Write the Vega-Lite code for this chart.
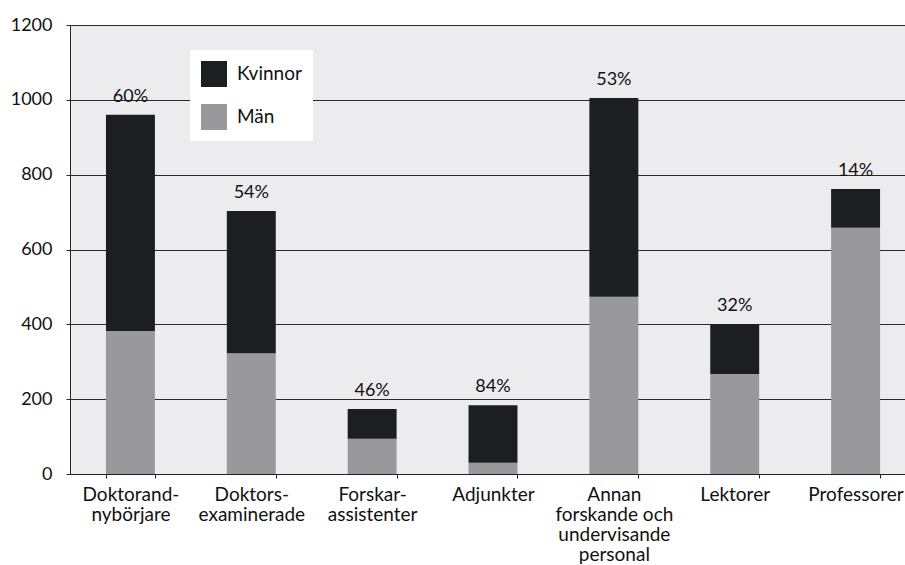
{
  "$schema": "https://vega.github.io/schema/vega-lite/v6.json",
  "width": 846,
  "height": 449,
  "autosize": {"type": "none"},
  "padding": {"left": 70, "top": 25, "right": 0, "bottom": 91},
  "background": "white",
  "config": {
    "font": "Lato",
    "view": {"fill": "#ececee", "stroke": null},
    "axis": {"labelFont": "Lato", "labelFontSize": 18, "labelColor": "#111"}
  },
  "data": {
    "values": [
      {"kategori": "Doktorand-|nybörjare", "ord": 1, "kon": "Män", "antal": 382, "andel": "60%"},
      {"kategori": "Doktorand-|nybörjare", "ord": 1, "kon": "Kvinnor", "antal": 578, "andel": "60%"},
      {"kategori": "Doktors-|examinerade", "ord": 2, "kon": "Män", "antal": 323, "andel": "54%"},
      {"kategori": "Doktors-|examinerade", "ord": 2, "kon": "Kvinnor", "antal": 380, "andel": "54%"},
      {"kategori": "Forskar-|assistenter", "ord": 3, "kon": "Män", "antal": 94, "andel": "46%"},
      {"kategori": "Forskar-|assistenter", "ord": 3, "kon": "Kvinnor", "antal": 80, "andel": "46%"},
      {"kategori": "Adjunkter", "ord": 4, "kon": "Män", "antal": 30, "andel": "84%"},
      {"kategori": "Adjunkter", "ord": 4, "kon": "Kvinnor", "antal": 154, "andel": "84%"},
      {"kategori": "Annan|forskande och|undervisande|personal", "ord": 5, "kon": "Män", "antal": 474, "andel": "53%"},
      {"kategori": "Annan|forskande och|undervisande|personal", "ord": 5, "kon": "Kvinnor", "antal": 531, "andel": "53%"},
      {"kategori": "Lektorer", "ord": 6, "kon": "Män", "antal": 267, "andel": "32%"},
      {"kategori": "Lektorer", "ord": 6, "kon": "Kvinnor", "antal": 133, "andel": "32%"},
      {"kategori": "Professorer", "ord": 7, "kon": "Män", "antal": 658, "andel": "14%"},
      {"kategori": "Professorer", "ord": 7, "kon": "Kvinnor", "antal": 104, "andel": "14%"}
    ]
  },
  "encoding": {
    "x": {
      "field": "kategori",
      "type": "nominal",
      "sort": {"field": "ord", "op": "min"},
      "scale": {"paddingInner": 0.595, "paddingOuter": 0.2975},
      "axis": {
        "title": null,
        "labelAngle": 0,
        "labelFontSize": 19,
        "labelExpr": "split(datum.label, '|')",
        "labelLineHeight": 20,
        "labelPadding": 7,
        "labelBaseline": "top",
        "tickBand": "extent",
        "tickSize": 4,
        "tickColor": "#222",
        "domainColor": "#222",
        "grid": false
      }
    }
  },
  "layer": [
    {
      "mark": {"type": "bar"},
      "encoding": {
        "y": {
          "field": "antal",
          "type": "quantitative",
          "stack": "zero",
          "scale": {"domain": [0, 1200], "nice": false},
          "axis": {
            "title": null,
            "values": [0, 200, 400, 600, 800, 1000, 1200],
            "format": "d",
            "grid": true,
            "gridColor": "#2a2a2a",
            "gridWidth": 1,
            "tickSize": 4,
            "tickColor": "#2a2a2a",
            "domainColor": "#2a2a2a",
            "labelPadding": 14
          }
        },
        "color": {
          "field": "kon",
          "type": "nominal",
          "scale": {"domain": ["Kvinnor", "Män"], "range": ["#1d1e21", "#99989c"]},
          "legend": {
            "title": null,
            "orient": "none",
            "legendX": 120,
            "legendY": 25,
            "fillColor": "white",
            "padding": 11,
            "symbolType": "square",
            "symbolSize": 676,
            "symbolStrokeWidth": 0,
            "rowPadding": 17,
            "labelFontSize": 19,
            "labelFont": "Lato",
            "labelColor": "#111",
            "labelOffset": 10
          }
        },
        "order": {"field": "kon", "sort": "descending"}
      }
    },
    {
      "transform": [
        {"aggregate": [{"op": "sum", "field": "antal", "as": "total"}, {"op": "min", "field": "andel", "as": "andel"}], "groupby": ["kategori", "ord"]}
      ],
      "mark": {"type": "text", "fontSize": 18, "font": "Lato", "color": "#111", "baseline": "alphabetic", "dy": -13},
      "encoding": {
        "y": {"field": "total", "type": "quantitative"},
        "text": {"field": "andel", "type": "nominal"}
      }
    }
  ]
}
